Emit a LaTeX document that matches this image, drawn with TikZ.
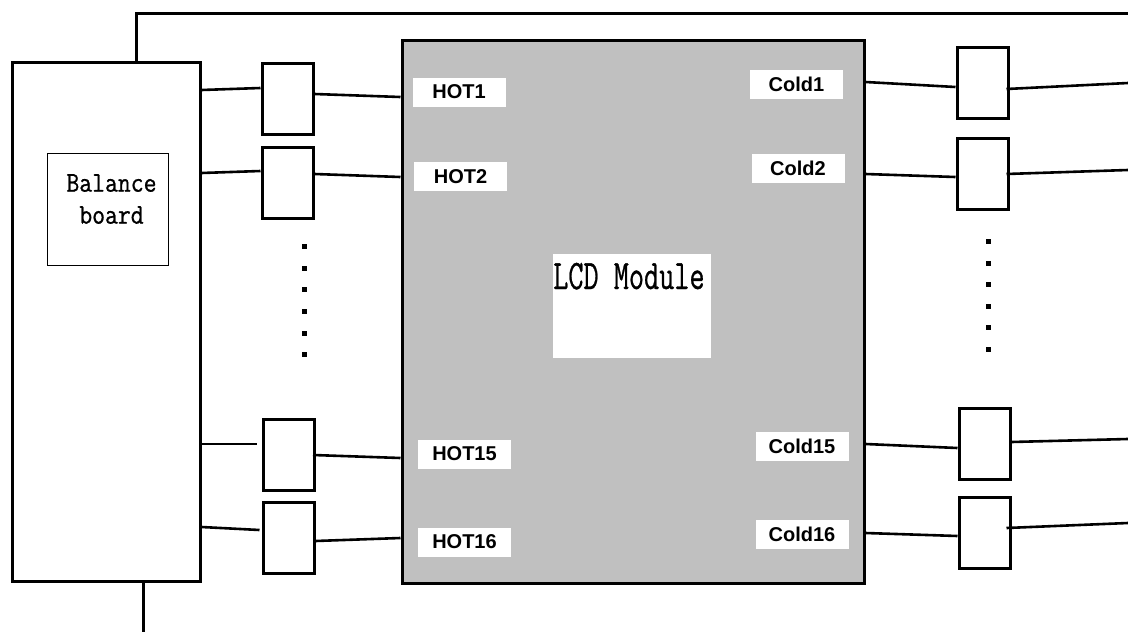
\documentclass[tikz,border=0pt]{standalone}
\usepackage{fontspec}
\setsansfont{Liberation Sans}
\newfontfamily\simmono{Latin Modern Mono}[FakeBold=0.8]
\definecolor{lcdgray}{HTML}{C0C0C0}
\begin{document}
\begin{tikzpicture}[x=1pt,y=-1pt,
  frame/.style={draw,line width=3pt,inner sep=0pt},
  smallbox/.style={frame,fill=white,minimum width=51pt,minimum height=71pt},
  wire/.style={line width=2.6pt},
  pin/.style={fill=white,inner sep=0pt,minimum width=93pt,minimum height=29pt,
    font=\sffamily\bfseries\fontsize{20}{24}\selectfont},
  dotsq/.style={fill=black}]
\useasboundingbox (0,0) rectangle (1128,632);

% main blocks
\node[frame,fill=white,minimum width=188pt,minimum height=519pt] (bal) at (106,321.5) {};
\node[draw,line width=1pt,inner sep=0pt,minimum width=121pt,minimum height=112pt] (bb) at (107.5,209) {};
\node[align=center,inner sep=0pt,font=\simmono\fontsize{25}{32}\selectfont] (bbt) at (111.5,199) {\scalebox{1}[1.15]{Balance}\\\scalebox{1}[1.15]{board}};

\node[frame,fill=lcdgray,minimum width=462pt,minimum height=543pt] (lcd) at (633,311.5) {};
\node[fill=white,inner sep=0pt,minimum width=158pt,minimum height=104pt] (lcdw) at (632,306) {};
\node[anchor=base west,inner sep=0pt,font=\simmono\fontsize{42}{50}\selectfont] (lcdt) at (553,289) {\scalebox{0.7}[1]{LCD Module}};

% pin labels
\node[pin] (h1) at (459,92) {HOT1};
\node[pin] (h2) at (460.5,176.5) {HOT2};
\node[pin] (h15) at (464.5,454) {HOT15};
\node[pin] (h16) at (464.5,542) {HOT16};
\node[pin] (c1) at (796.5,84) {Cold1};
\node[pin] (c2) at (798,168) {Cold2};
\node[pin] (c15) at (802,446) {Cold15};
\node[pin] (c16) at (802,534) {Cold16};

% small boxes
\node[smallbox] (l1) at (287.5,99) {};
\node[smallbox] (l2) at (287.5,182.5) {};
\node[smallbox] (l15) at (289,455) {};
\node[smallbox] (l16) at (288.5,538) {};
\node[smallbox] (r1) at (982.5,82.5) {};
\node[smallbox] (r2) at (982.5,173.5) {};
\node[smallbox] (r15) at (984.5,444) {};
\node[smallbox] (r16) at (984.5,533) {};

% outer lines
\coordinate (top) at (136,13);
\coordinate (topR) at (1128,13);
\coordinate (botE) at (143,632);
\draw[line width=3pt] (bal.north -| top) -- (top) -- (topR);
\draw[line width=3pt] (bal.south -| botE) -- (botE);

% left connectors
\draw[wire] (bal.east |- 0,90) -- (l1.west |- 0,88);
\draw[wire] (l1.east |- 0,94) -- (lcd.west |- 0,97);
\draw[wire] (bal.east |- 0,173) -- (l2.west |- 0,171);
\draw[wire] (l2.east |- 0,174) -- (lcd.west |- 0,177);
\draw[wire] (bal.east |- 0,444) -- ([xshift=-5pt]l15.west |- 0,444);
\draw[wire] ([xshift=-3pt]l15.east |- 0,455) -- (lcd.west |- 0,458);
\draw[wire] (bal.east |- 0,527) -- ([xshift=-2pt]l16.west |- 0,530);
\draw[wire] (l16.east |- 0,541) -- (lcd.west |- 0,538);

% right connectors
\coordinate (e1) at (1128,83);
\coordinate (e2) at (1128,170);
\coordinate (e15) at (1128,439);
\coordinate (e16) at (1128,523);
\draw[wire] (lcd.east |- 0,82) -- (r1.west |- 0,87);
\draw[wire] ([xshift=-3pt]r1.east |- 0,89) -- (e1);
\draw[wire] (lcd.east |- 0,174) -- (r2.west |- 0,177);
\draw[wire] ([xshift=-3pt]r2.east |- 0,174) -- (e2);
\draw[wire] (lcd.east |- 0,444) -- (r15.west |- 0,448);
\draw[wire] (r15.east |- 0,442) -- (e15);
\draw[wire] (lcd.east |- 0,533) -- (r16.west |- 0,536);
\draw[wire] ([xshift=-5pt]r16.east |- 0,528) -- (e16);

% dots
\foreach \yy in {246,268,289,311,333,354} \fill[dotsq] (301.5,\yy-2.5) rectangle ++(5,5);
\foreach \yy in {241,263,284,306,327,349} \fill[dotsq] (985.5,\yy-2.5) rectangle ++(5,5);
\end{tikzpicture}
\end{document}
